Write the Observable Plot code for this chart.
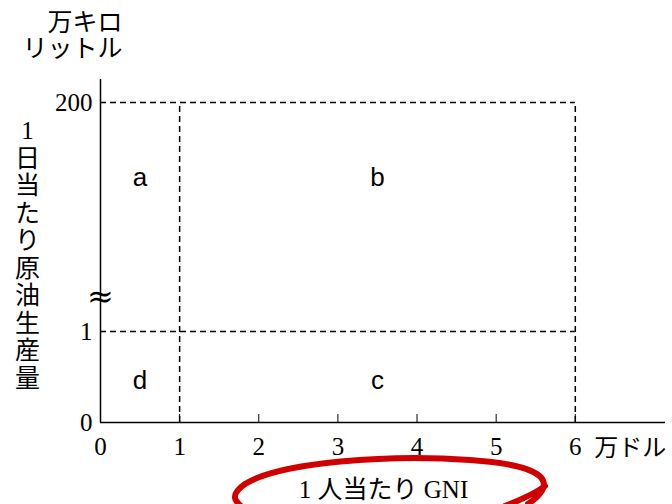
<!DOCTYPE html>
<html><head><meta charset="utf-8">
<script src="https://cdn.jsdelivr.net/npm/d3@7"></script>
<script src="https://cdn.jsdelivr.net/npm/@observablehq/plot@0.6"></script>
<style>body{margin:0;background:#fff;} #chart{position:relative;width:672px;height:504px;}</style>
</head><body><div id="chart"></div>
<script>
// data
const xTicks = [0, 1, 2, 3, 4, 5, 6];
const yTicks = [0, 1, 200];
const xMax = 7.14;
const yTop = 220;
const breakY = 31;
const regionLabels = ["a", "b", "c", "d"];
const regionX = [0.5, 3.5, 3.5, 0.5];
const regionY = [135, 135, 0.46, 0.46];
const gniThreshold = [1];
const gniMax = [6];
const prodThreshold = [1];
const prodMax = [200];
const yLabel = "1日当たり原油生産量";
const yUnit = "万キロ\nリットル";
const xUnit = "万ドル";
const xLabel = "1 人当たり GNI";

const regions = regionLabels.map((t, i) => ({t, x: regionX[i], y: regionY[i]}));
const hLines = [...prodThreshold, ...prodMax].map(y => ({x1: 0, x2: gniMax[0], y}));
const vLines = [...gniThreshold, ...gniMax].map(x => ({x, y1: 0, y2: prodMax[0]}));

const serif = "'Liberation Serif','Noto Sans CJK JP',serif";
const plot = Plot.plot({
  width: 672, height: 504,
  marginLeft: 100, marginRight: 7, marginTop: 79, marginBottom: 82,
  x: {domain: [0, xMax], range: [100, 665]},
  y: {type: "linear", domain: [0, 1, yTop], range: [422, 331, 79]},
  style: {fontFamily: serif, background: "white"},
  marks: [
    Plot.ruleY(hLines, {x1: "x1", x2: "x2", y: "y", stroke: "black", strokeWidth: 1.5, strokeDasharray: "6,4"}),
    Plot.ruleX(vLines, {x: "x", y1: "y1", y2: "y2", stroke: "black", strokeWidth: 1.5, strokeDasharray: "6,4"}),
    Plot.ruleX([0], {x: d => d, y1: 0, y2: yTop, stroke: "black", strokeWidth: 1.5}),
    Plot.ruleY([0], {y: d => d, x1: 0, x2: xMax, stroke: "black", strokeWidth: 1.5}),
    Plot.axisX({ticks: xTicks.slice(1), tickSize: -8, tickFormat: () => "", stroke: "black"}),
    Plot.axisX({ticks: xTicks, tickSize: 0, tickPadding: 15, tickFormat: d => String(d), fontSize: 25, fontFamily: serif, fill: "black"}),
    Plot.axisY({ticks: yTicks, tickSize: 0, tickPadding: 8, tickFormat: d => String(d), fontSize: 25, fontFamily: serif, fill: "black"}),
    Plot.text([xUnit], {x: gniMax[0], y: 0, text: d => d, dx: 19, dy: 26, textAnchor: "start", fontSize: 24, fontFamily: serif, fill: "black"}),
    Plot.text([breakY], {x: 0, y: d => d, text: () => "≈", fontSize: 32, fontFamily: "'DejaVu Serif',serif", fill: "black"}),
    Plot.text(regions, {x: "x", y: "y", text: "t", fontSize: 26, fontFamily: "'Liberation Sans',Arial,sans-serif", fill: "black"}),
    Plot.text([yLabel], {frameAnchor: "left", text: d => d.split("").join("\n"), dx: -73, dy: 3, textAnchor: "middle", lineAnchor: "middle", lineHeight: 1.1, fontSize: 25, fontFamily: serif, fill: "black"}),
    Plot.text([yUnit], {frameAnchor: "top-left", text: d => d, dx: 22, dy: -44, textAnchor: "end", lineAnchor: "middle", lineHeight: 1.06, fontSize: 25, fontFamily: serif, fill: "black"}),
    Plot.text([xLabel], {frameAnchor: "bottom", text: d => d, dx: 0.5, dy: 67, lineAnchor: "middle", fontSize: 25, fontFamily: serif, fill: "black"})
  ]
});
document.getElementById("chart").appendChild(plot);
// hand-drawn red annotation ellipse
const svg = d3.select(plot);
svg.append("path")
  .attr("d", "M 528 504 C 560 482, 545 465, 470 460 C 390 454, 280 462, 245 484 C 225 498, 240 504, 245 510 M 505 506 C 520 500, 535 494, 545 486")
  .attr("fill", "none").attr("stroke", "#d00000").attr("stroke-width", 6).attr("stroke-linecap", "round");
</script></body></html>
